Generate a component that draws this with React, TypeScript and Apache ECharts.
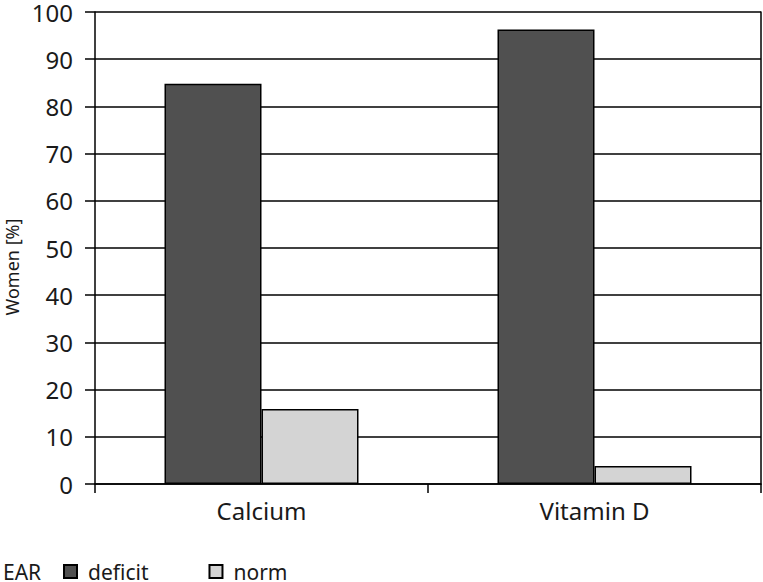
import React, { useEffect, useRef } from "react";
import * as echarts from "echarts";

const categories = ["Calcium", "Vitamin D"];
const deficitValues = [84.8, 96.3];
const normValues = [15.9, 3.8];
const seriesNames = ["deficit", "norm"];
const yTicks = { min: 0, max: 100, interval: 10 };

const FONT = "Noto Sans";
const TEXT = "#1a1a1a";

export default function App() {
  const ref = useRef<HTMLDivElement>(null);
  useEffect(() => {
    if (!ref.current) return;
    const chart = echarts.init(ref.current, undefined, { renderer: "svg" });
    chart.setOption({
      animation: false,
      textStyle: { fontFamily: FONT, color: TEXT },
      grid: { left: 95, right: 2, top: 9, bottom: 98, containLabel: false },
      legend: {
        left: 63,
        top: 561,
        padding: 0,
        itemWidth: 13,
        itemHeight: 13,
        itemGap: 60,
        icon: "rect",
        textStyle: { fontFamily: FONT, fontSize: 21, color: TEXT, padding: [0, 0, 0, 6] },
        data: seriesNames,
      },
      graphic: [
        {
          type: "text",
          x: 3,
          y: 572,
          style: { text: "EAR", fontFamily: FONT, fontSize: 21, fill: TEXT, verticalAlign: "middle" },
        },
        {
          type: "text",
          x: 12,
          y: 267,
          rotation: Math.PI / 2,
          style: {
            text: "Women [%]",
            fontFamily: FONT,
            fontSize: 18,
            fill: TEXT,
            align: "center",
            verticalAlign: "middle",
          },
        },
      ],
      xAxis: {
        type: "category",
        data: categories,
        axisLine: { lineStyle: { color: "#000", width: 1.5 } },
        axisTick: { show: true, length: 9, lineStyle: { color: "#000", width: 1.5 } },
        axisLabel: { fontFamily: FONT, fontSize: 24, color: TEXT, margin: 14 },
      },
      yAxis: [
        {
          type: "value",
          min: yTicks.min,
          max: yTicks.max,
          interval: yTicks.interval,
          axisLine: { show: true, lineStyle: { color: "#000", width: 1.5 } },
          axisTick: { show: true, length: 10, lineStyle: { color: "#000", width: 1.5 } },
          axisLabel: { fontFamily: FONT, fontSize: 24, color: TEXT, margin: 22 },
          splitLine: { show: true, lineStyle: { color: "#000", width: 1.5 } },
        },
        {
          type: "value",
          position: "right",
          min: yTicks.min,
          max: yTicks.max,
          interval: yTicks.interval,
          axisLine: { show: true, lineStyle: { color: "#000", width: 1.5 } },
          axisTick: { show: false },
          axisLabel: { show: false },
          splitLine: { show: false },
        },
      ],
      series: [
        {
          name: seriesNames[0],
          type: "bar",
          data: deficitValues,
          barWidth: 97,
          barGap: "0%",
          itemStyle: { color: "#505050", borderColor: "#000", borderWidth: 1.5 },
        },
        {
          name: seriesNames[1],
          type: "bar",
          data: normValues,
          barWidth: 97,
          itemStyle: { color: "#d4d4d4", borderColor: "#000", borderWidth: 1.5 },
        },
      ],
    });
    return () => chart.dispose();
  }, []);
  return <div ref={ref} style={{ width: 763, height: 582, position: "absolute", left: 0, top: 0 }} />;
}
